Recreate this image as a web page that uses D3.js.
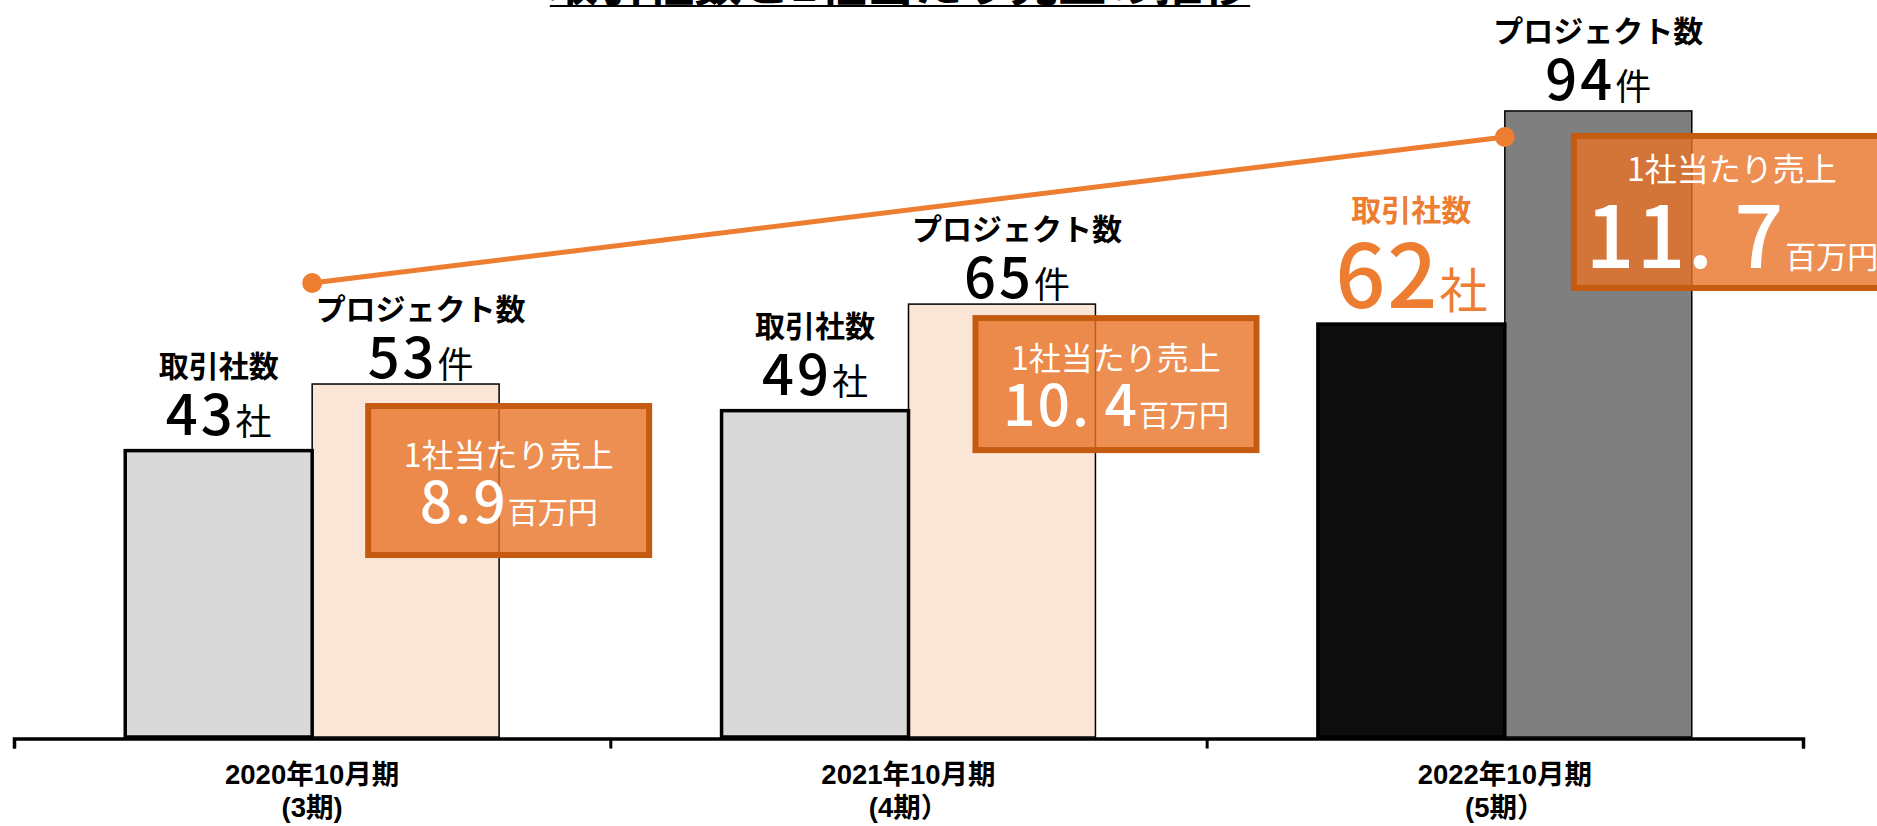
<!DOCTYPE html>
<html><head><meta charset="utf-8">
<script src="https://cdn.jsdelivr.net/npm/d3@7"></script>
<style>
html,body{margin:0;padding:0;background:#fff;overflow:hidden;}
svg{display:block;}
</style></head>
<body>
<svg id="chart" width="1877" height="826"></svg>
<script>
// ---- data ----
const titleText = "取引社数と1社当たり売上の推移";
const categories = ["2020年10月期", "2021年10月期", "2022年10月期"];
const periodLabels = ["(3期)", "(4期）", "(5期）"];
const seriesNames = ["取引社数", "プロジェクト数"];
const seriesUnits = ["社", "件"];
const clientCounts = [43, 49, 62];
const projectCounts = [53, 65, 94];
const revenuePerClient = [8.9, 10.4, 11.7];
const revenueLabel = "1社当たり売上";
const revenueUnit = "百万円";

// ---- layout / style (not data) ----
const highlight = categories.length - 1;
const ORANGE = "#ED7D31", ORANGE_DARK = "#C55A11";
const JP = "'Noto Sans CJK JP','Noto Sans',sans-serif";
const AXISFONT = "'Liberation Sans','Noto Sans CJK JP',sans-serif";
const calloutLayout = [ // offsets relative to the project bar
  {dx: 53, dy: 19, w: 287, h: 155},
  {dx: 64, dy: 11, w: 287, h: 138},
  {dx: 66, dy: 22, w: 322, h: 158}
];

const svg = d3.select("#chart");

const x0 = d3.scaleBand().domain(categories).range([14, 1803]).paddingInner(0).paddingOuter(0);
const x1 = d3.scaleBand().domain([0, 1]).range([0, x0.bandwidth()]).paddingInner(0).paddingOuter(0.595);
const y = d3.scaleLinear().domain([0, 100]).range([737, 71]);
const yRev = d3.scaleLinear().domain([revenuePerClient[0], revenuePerClient[highlight]]).range([283, 137]);
const xEdge = d3.scaleLinear().domain([0, categories.length]).range(x0.range());

const seriesValues = [clientCounts, projectCounts];
const barData = [];
categories.forEach((c, i) => {
  [1, 0].forEach(s => barData.push({c, i, s, v: seriesValues[s][i]}));
});

// ---- title (cut off at top) ----
const title = svg.append("text")
  .attr("x", 900).attr("y", 1)
  .attr("text-anchor", "middle")
  .style("font-family", JP).style("font-weight", 700).style("font-size", "48px")
  .attr("fill", "#000").text(titleText);
const tw = title.node().getComputedTextLength();
svg.append("line").attr("x1", 900 - tw / 2).attr("x2", 900 + tw / 2)
  .attr("y1", 6).attr("y2", 6).attr("stroke", "#000").attr("stroke-width", 2.2);

// ---- bars ----
svg.append("g").selectAll("rect").data(barData).join("rect")
  .attr("x", d => x0(d.c) + x1(d.s))
  .attr("y", d => y(d.v))
  .attr("width", x1.bandwidth())
  .attr("height", d => y(0) - y(d.v))
  .attr("fill", d => d.s === 0 ? (d.i === highlight ? "#0D0D0D" : "#D9D9D9")
                               : (d.i === highlight ? "#7F7F7F" : "#FBE5D6"))
  .attr("stroke", "#000")
  .attr("stroke-width", d => d.s === 0 ? 3.5 : 1.5);

// ---- axis ----
const axis = svg.append("g").attr("transform", "translate(0,738.5)")
  .call(d3.axisBottom(xEdge).tickValues(d3.range(categories.length + 1)).tickFormat("").tickSizeOuter(0).tickSize(10));
axis.select(".domain").attr("stroke", "#000").attr("stroke-width", 3.5);
axis.selectAll(".tick line").attr("stroke", "#000").attr("stroke-width", 3);

const catLabels = svg.append("g").selectAll("text").data(categories).join("text")
  .attr("x", d => x0(d) + x0.bandwidth() / 2)
  .attr("text-anchor", "middle")
  .style("font-family", AXISFONT).style("font-weight", 700).style("font-size", "27.5px")
  .attr("fill", "#000");
catLabels.append("tspan").attr("x", d => x0(d) + x0.bandwidth() / 2).attr("y", 784).text(d => d);
catLabels.append("tspan").attr("x", d => x0(d) + x0.bandwidth() / 2).attr("y", 817).text((d, i) => periodLabels[i]);

// ---- trend line ----
const trend = [0, highlight].map(i => ({x: x0(categories[i]) + x0.bandwidth() / 2, y: yRev(revenuePerClient[i])}));
svg.append("path").datum(trend)
  .attr("d", d3.line().x(d => d.x).y(d => d.y))
  .attr("fill", "none").attr("stroke", ORANGE).attr("stroke-width", 5);
svg.append("g").selectAll("circle").data(trend).join("circle")
  .attr("cx", d => d.x).attr("cy", d => d.y).attr("r", 10).attr("fill", ORANGE);

// ---- bar labels ----
const lbl = svg.append("g").selectAll("g").data(barData).join("g");
lbl.each(function (d) {
  const g = d3.select(this);
  const hl = d.i === highlight;
  const cx = x0(d.c) + x1(d.s) + x1.bandwidth() / 2 + (d.s === 1 && !hl ? 15 : 0);
  const numBase = y(d.v) - (d.s === 0 ? 16 : (hl ? 11 : 6));
  const big = hl && d.s === 0;
  const color = big ? ORANGE : "#000";
  g.append("text").attr("x", cx).attr("y", numBase - (big ? 87 : 58))
    .attr("text-anchor", "middle").attr("fill", color)
    .style("font-family", JP).style("font-weight", 700).style("font-size", "30px")
    .text(seriesNames[d.s]);
  const t = g.append("text").attr("x", cx).attr("y", numBase)
    .attr("text-anchor", "middle").attr("fill", color).style("font-family", JP);
  t.append("tspan").style("font-weight", 500).style("font-size", big ? "88px" : "56px")
    .style("letter-spacing", big ? "2px" : "3px").text(d.v);
  t.append("tspan").style("font-weight", 400).style("font-size", big ? "48px" : "36px").text(seriesUnits[d.s]);
});

// ---- callout boxes ----
const fmtRev = v => {
  const s = d3.format(".1f")(v);
  return v >= 10 ? s.replace(".", ".\u2009") : s;
};
const boxes = svg.append("g").selectAll("g").data(revenuePerClient).join("g");
boxes.each(function (v, i) {
  const g = d3.select(this);
  const L = calloutLayout[i];
  const hl = i === highlight;
  const left = x0(categories[i]) + x1(1) + L.dx;
  const top = y(projectCounts[i]) + L.dy;
  g.append("rect").attr("x", left + 3).attr("y", top + 3)
    .attr("width", L.w - 6).attr("height", L.h - 6)
    .attr("fill", "rgba(233,115,40,0.8)")
    .attr("stroke", ORANGE_DARK).attr("stroke-width", 6);
  const cx = left + L.w / 2, cy = top + L.h / 2;
  g.append("text").attr("x", cx).attr("y", cy - (hl ? 31 : 14))
    .attr("text-anchor", "middle").attr("fill", "#fff")
    .style("font-family", JP).style("font-weight", 400).style("font-size", "32px")
    .text(revenueLabel);
  const t = g.append("text").attr("x", cx).attr("y", cy + (hl ? 56 : 42))
    .attr("text-anchor", "middle").attr("fill", "#fff").style("font-family", JP);
  t.append("tspan").style("font-weight", 500).style("font-size", hl ? "86px" : "57px")
    .style("letter-spacing", hl ? "2px" : "2px").text(fmtRev(v));
  t.append("tspan").style("font-weight", 400).style("font-size", hl ? "31px" : "30px").text(revenueUnit);
});
</script>
</body></html>
